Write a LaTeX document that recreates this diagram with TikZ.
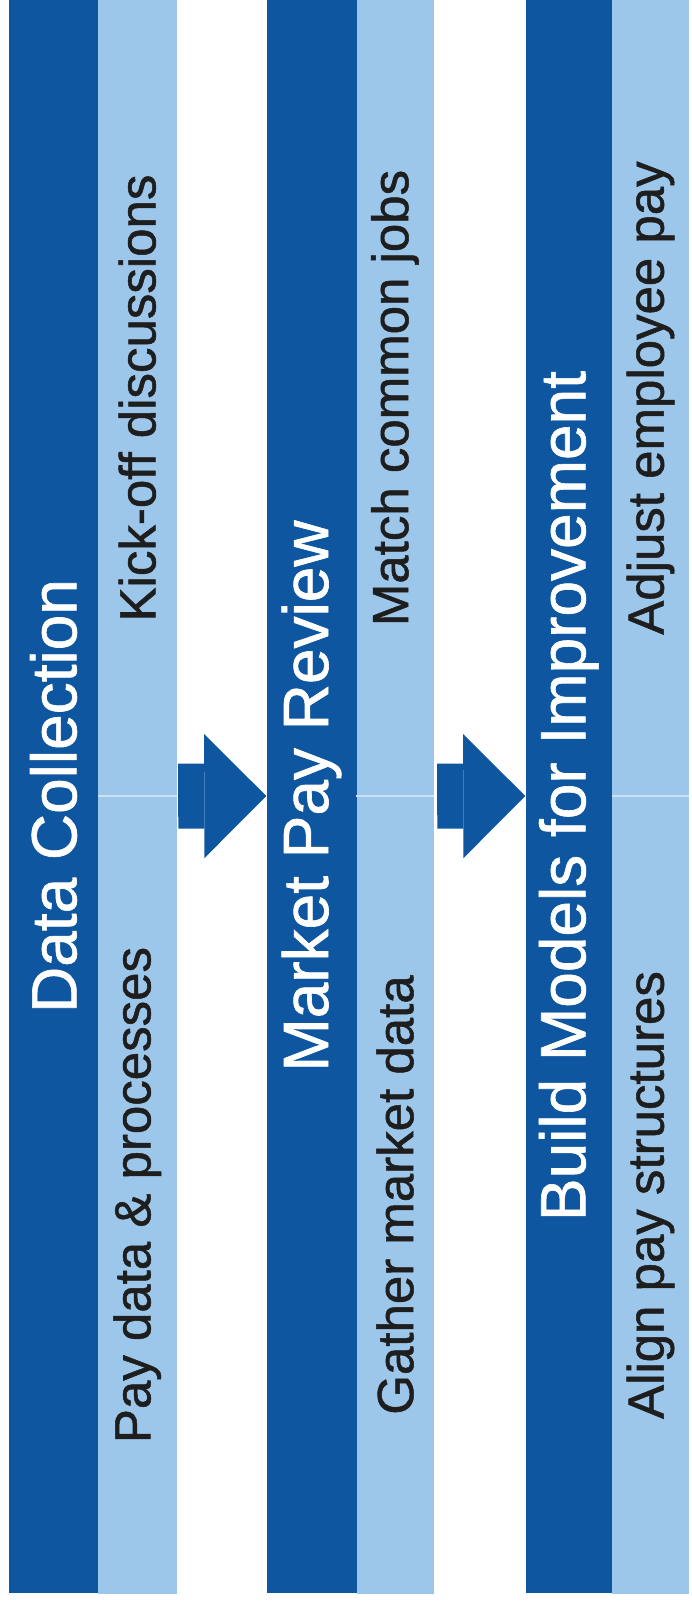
\documentclass[tikz,border=0pt]{standalone}
\usepackage{fontspec}
\setmainfont{Liberation Sans}
\newfontfamily\scanfont[FakeBold=1]{Liberation Sans}
\usetikzlibrary{arrows.meta}

\definecolor{barblue}{RGB}{14,86,160}
\definecolor{cellblue}{RGB}{156,198,234}
\definecolor{splitblue}{RGB}{205,226,244}
\definecolor{taskgray}{RGB}{30,30,30}

\tikzset{
	phase/.style = {rotate=90, fill=barblue, text=white, inner sep=0pt, minimum width=1594pt, font=\scanfont\fontsize{64}{70}\selectfont},
	task/.style = {rotate=90, fill=cellblue, text=taskgray, inner sep=0pt, minimum height=77pt, font=\scanfont\fontsize{51}{60}\selectfont},
	fatarrow/.style = {barblue, line width=65pt, -{Triangle[length=62pt, width=124pt, line width=0pt]}}
}

\begin{document}
\begin{tikzpicture} [x = 1pt, y = 1pt]
	\useasboundingbox (0,0) rectangle (692,1602);
	% first phase
	\node [phase, minimum height=89pt] (dc) at (53.5,806) {Data Collection};
	\node [task, minimum width=796pt, minimum height=78.5pt] (kick) at (137.25,1204) {Kick-off discussions};
	\node [task, minimum width=798pt, minimum height=78.5pt] (paydata) at (137.25,407) {Pay data \& processes};
	% second phase
	\node [phase, minimum height=90pt] (mpr) at (311.5,806) {Market Pay Review};
	\node [task, minimum width=796pt] (match) at (395,1204) {Match common jobs};
	\node [task, minimum width=798pt] (gather) at (395,407) {Gather market data};
	% third phase
	\node [phase, minimum height=86.5pt] (bm) at (568.75,806) {Build Models for Improvement};
	\node [task, minimum width=796pt] (adjust) at (650.5,1204) {Adjust employee pay};
	\node [task, minimum width=798pt] (align) at (650.5,407) {Align pay structures};
	% cell borders
	\draw [splitblue, line width=1.5pt] (kick.south west) -- (kick.north west);
	\draw [splitblue, line width=1.5pt] (match.south west) -- (match.north west);
	\draw [splitblue, line width=1.5pt] (adjust.south west) -- (adjust.north west);
	% arrows between phases
	\draw [fatarrow] ([xshift=1.5pt]kick.south west) -- (mpr.north);
	\draw [fatarrow] ([xshift=3.5pt]match.south west) -- (bm.north);
\end{tikzpicture}
\end{document}
